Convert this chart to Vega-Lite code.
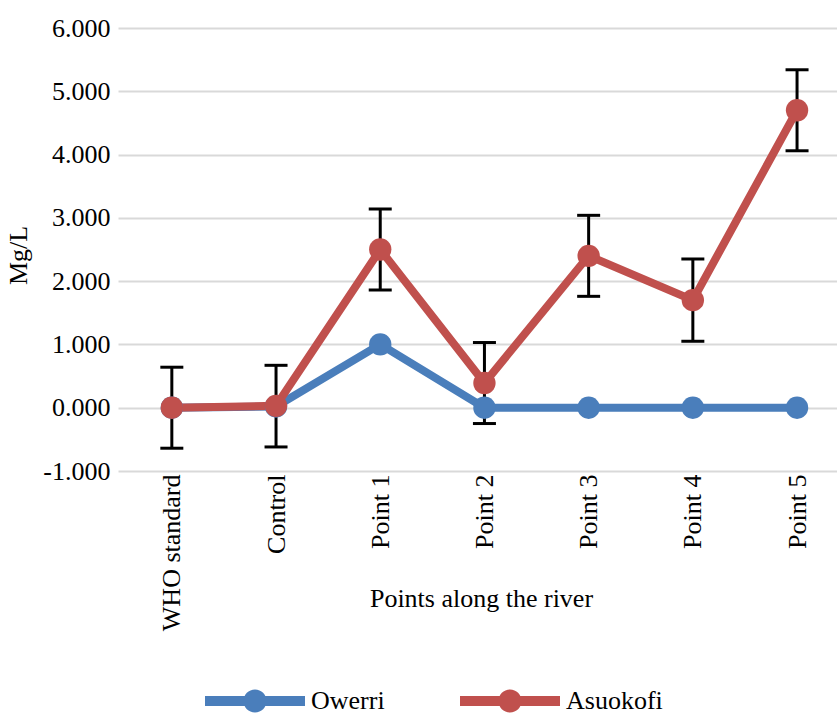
{
  "$schema": "https://vega.github.io/schema/vega-lite/v6.json",
  "width": 719,
  "height": 443,
  "padding": {"left": 5, "top": 15, "right": 0, "bottom": 0},
  "background": "white",
  "config": {
    "view": {"stroke": null},
    "font": "Liberation Serif",
    "axis": {"labelFont": "Liberation Serif", "titleFont": "Liberation Serif", "labelColor": "#000", "titleColor": "#000", "titleFontWeight": "normal", "labelFontSize": 26, "titleFontSize": 26},
    "legend": {"labelFont": "Liberation Serif", "labelFontSize": 26, "labelColor": "#000"}
  },
  "data": {
    "values": [
      {"site": "WHO standard", "series": "Owerri", "value": 0.0},
      {"site": "Control", "series": "Owerri", "value": 0.02},
      {"site": "Point 1", "series": "Owerri", "value": 1.0},
      {"site": "Point 2", "series": "Owerri", "value": 0.0},
      {"site": "Point 3", "series": "Owerri", "value": 0.0},
      {"site": "Point 4", "series": "Owerri", "value": 0.0},
      {"site": "Point 5", "series": "Owerri", "value": 0.0},
      {"site": "WHO standard", "series": "Asuokofi", "value": 0.0, "lo": -0.64, "hi": 0.64},
      {"site": "Control", "series": "Asuokofi", "value": 0.03, "lo": -0.62, "hi": 0.67},
      {"site": "Point 1", "series": "Asuokofi", "value": 2.5, "lo": 1.86, "hi": 3.14},
      {"site": "Point 2", "series": "Asuokofi", "value": 0.39, "lo": -0.25, "hi": 1.03},
      {"site": "Point 3", "series": "Asuokofi", "value": 2.4, "lo": 1.76, "hi": 3.04},
      {"site": "Point 4", "series": "Asuokofi", "value": 1.7, "lo": 1.05, "hi": 2.35},
      {"site": "Point 5", "series": "Asuokofi", "value": 4.7, "lo": 4.06, "hi": 5.34}
    ]
  },
  "encoding": {
    "x": {
      "field": "site", "type": "nominal",
      "sort": ["WHO standard", "Control", "Point 1", "Point 2", "Point 3", "Point 4", "Point 5"],
      "scale": {"type": "point", "padding": 0.45, "align": 0.574},
      "axis": {"title": "Points along the river", "labelAngle": -90, "labelAlign": "right", "labelBaseline": "middle", "labelPadding": 3, "ticks": false, "domain": false, "grid": false, "titleBaseline": "alphabetic", "titleY": 135, "titleX": 363}
    }
  },
  "layer": [
    {
      "transform": [{"filter": "isValid(datum.lo)"}],
      "mark": {"type": "rule", "color": "#000", "strokeWidth": 3},
      "encoding": {"y": {"field": "lo", "type": "quantitative"}, "y2": {"field": "hi"}}
    },
    {
      "transform": [{"filter": "isValid(datum.lo)"}],
      "mark": {"type": "tick", "color": "#000", "thickness": 3, "size": 23, "opacity": 1},
      "encoding": {"y": {"field": "lo", "type": "quantitative"}}
    },
    {
      "transform": [{"filter": "isValid(datum.hi)"}],
      "mark": {"type": "tick", "color": "#000", "thickness": 3, "size": 23, "opacity": 1},
      "encoding": {"y": {"field": "hi", "type": "quantitative"}}
    },
    {
      "mark": {"type": "line", "strokeWidth": 8},
      "encoding": {
        "y": {"field": "value", "type": "quantitative"},
        "color": {"field": "series", "type": "nominal", "scale": {"domain": ["Owerri", "Asuokofi"], "range": ["#4a7ebb", "#c0504d"]}},
        "order": {"field": "series"}
      }
    },
    {
      "mark": {"type": "point", "filled": true, "size": 500, "opacity": 1, "shape": "circle"},
      "encoding": {
        "y": {
          "field": "value", "type": "quantitative",
          "scale": {"domain": [-1, 6], "nice": false, "zero": false},
          "axis": {"title": "Mg/L", "values": [-1, 0, 1, 2, 3, 4, 5, 6], "labelExpr": "datum.value < 0 ? '-' + format(-datum.value, '.3f') : format(datum.value, '.3f')", "ticks": false, "domain": false, "gridColor": "#d9d9d9", "gridWidth": 2, "labelPadding": 8, "titlePadding": 11, "titleY": 227}
        },
        "color": {
          "field": "series", "type": "nominal",
          "scale": {"domain": ["Owerri", "Asuokofi"], "range": ["#4a7ebb", "#c0504d"]},
          "legend": {
            "title": null, "orient": "none", "direction": "horizontal", "legendX": 87, "legendY": 623,
            "symbolType": "M -1 -0.1 L 1 -0.1 L 1 0.1 L -1 0.1 Z M -0.23 0 A 0.23 0.23 0 1 1 0.23 0 A 0.23 0.23 0 1 1 -0.23 0 Z",
            "symbolSize": 10000, "symbolStrokeWidth": 0, "symbolOpacity": 1, "labelOffset": 6, "columnPadding": 75
          }
        }
      }
    }
  ],
  "resolve": {"scale": {"y": "shared"}}
}
